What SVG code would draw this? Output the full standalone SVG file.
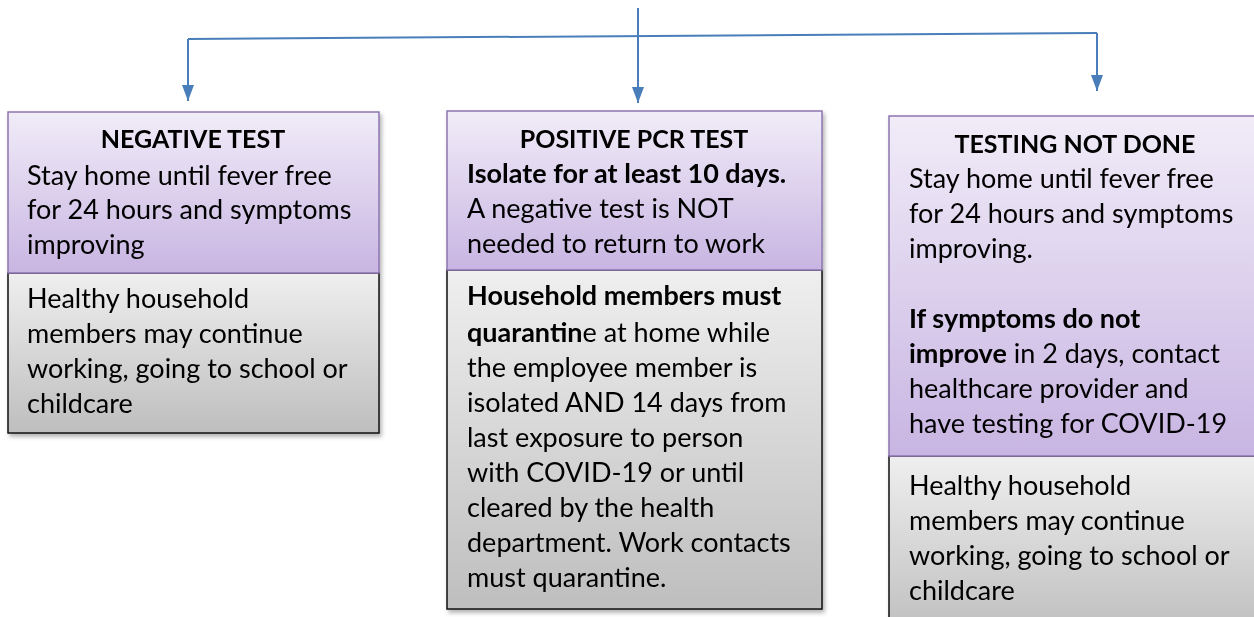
<svg xmlns="http://www.w3.org/2000/svg" width="1254" height="617" viewBox="0 0 1254 617">
<defs>
<linearGradient id="gp" x1="0" y1="0" x2="0" y2="1">
<stop offset="0" stop-color="#F1ECF8"/>
<stop offset="1" stop-color="#C8B5E2"/>
</linearGradient>
<linearGradient id="gg" x1="0" y1="0" x2="0" y2="1">
<stop offset="0" stop-color="#EFEFEF"/>
<stop offset="1" stop-color="#BEBEBE"/>
</linearGradient>
<filter id="sh" x="-5%" y="-5%" width="115%" height="115%">
<feDropShadow dx="2" dy="3" stdDeviation="2" flood-color="#000" flood-opacity="0.3"/>
</filter>
<marker id="ah" viewBox="0 0 16 12" refX="16" refY="6" markerWidth="16" markerHeight="12" markerUnits="userSpaceOnUse" orient="auto">
<path d="M0,0 L16,6 L0,12 Z" fill="#4A7EBB"/>
</marker>
</defs>
<style>
.t{font-family:Lato,"Liberation Sans",sans-serif;font-size:27px;fill:#000}
.b{font-weight:bold}
.c{text-anchor:middle;font-size:25px}
.pur{fill:url(#gp);stroke:#8D75B0;stroke-width:1.5}
.gry{fill:url(#gg);stroke:#111;stroke-width:1.5}
.ln{fill:none;stroke:#4A7EBB;stroke-width:2}
</style>
<g id="connectors">
<line class="ln" x1="638" y1="8" x2="638" y2="38"/>
<line class="ln" x1="188" y1="39" x2="1097" y2="33"/>
<line class="ln" x1="188" y1="39" x2="188" y2="101" marker-end="url(#ah)"/>
<line class="ln" x1="638" y1="38" x2="638" y2="103" marker-end="url(#ah)"/>
<line class="ln" x1="1097" y1="33" x2="1097" y2="91" marker-end="url(#ah)"/>
</g>
<g id="negative" filter="url(#sh)">
<rect class="gry" x="8" y="273" width="371" height="160"/>
<rect class="pur" x="8" y="112" width="371" height="161"/>
<text class="t b c" x="193" y="148">NEGATIVE TEST</text>
<text class="t" x="27" y="185">Stay home until fever free</text>
<text class="t" x="27" y="219">for 24 hours and symptoms</text>
<text class="t" x="27" y="254">improving</text>
<text class="t" x="27" y="308">Healthy household</text>
<text class="t" x="27" y="343">members may continue</text>
<text class="t" x="27" y="378">working, going to school or</text>
<text class="t" x="27" y="413">childcare</text>
</g>
<g id="positive" filter="url(#sh)">
<rect class="gry" x="447" y="270" width="375" height="339"/>
<rect class="pur" x="447" y="111" width="375" height="159"/>
<text class="t b c" x="634" y="148">POSITIVE PCR TEST</text>
<text class="t b" x="467" y="183">Isolate for at least 10 days.</text>
<text class="t" x="467" y="218">A negative test is NOT</text>
<text class="t" x="467" y="253">needed to return to work</text>
<text class="t b" x="467" y="305">Household members must</text>
<text class="t" x="467" y="342"><tspan class="b">quarantin</tspan>e at home while</text>
<text class="t" x="467" y="377">the employee member is</text>
<text class="t" x="467" y="412">isolated AND 14 days from</text>
<text class="t" x="467" y="447">last exposure to person</text>
<text class="t" x="467" y="482">with COVID-19 or until</text>
<text class="t" x="467" y="517">cleared by the health</text>
<text class="t" x="467" y="552">department. Work contacts</text>
<text class="t" x="467" y="587">must quarantine.</text>
</g>
<g id="notdone" filter="url(#sh)">
<rect class="gry" x="889" y="456" width="380" height="180"/>
<rect class="pur" x="889" y="116" width="380" height="340"/>
<text class="t b c" x="1075" y="153">TESTING NOT DONE</text>
<text class="t" x="909" y="188">Stay home until fever free</text>
<text class="t" x="909" y="223">for 24 hours and symptoms</text>
<text class="t" x="909" y="258">improving.</text>
<text class="t b" x="909" y="328">If symptoms do not</text>
<text class="t" x="909" y="363"><tspan class="b">improve</tspan> in 2 days, contact</text>
<text class="t" x="909" y="398">healthcare provider and</text>
<text class="t" x="909" y="433">have testing for COVID-19</text>
<text class="t" x="909" y="495">Healthy household</text>
<text class="t" x="909" y="530">members may continue</text>
<text class="t" x="909" y="565">working, going to school or</text>
<text class="t" x="909" y="600">childcare</text>
</g>
</svg>
